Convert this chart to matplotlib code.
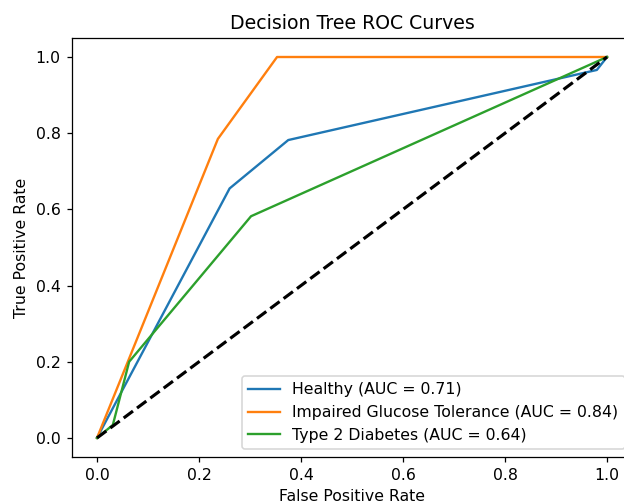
import matplotlib
matplotlib.use("Agg")
import matplotlib.pyplot as plt

# ROC points
healthy_fpr = [0.0, 0.26, 0.375, 0.98, 1.0]
healthy_tpr = [0.0, 0.655, 0.782, 0.966, 1.0]
igt_fpr = [0.0, 0.237, 0.353, 1.0]
igt_tpr = [0.0, 0.785, 1.0, 1.0]
t2d_fpr = [0.0, 0.031, 0.063, 0.302, 1.0]
t2d_tpr = [0.0, 0.034, 0.200, 0.582, 1.0]

labels = ['Healthy (AUC = 0.71)',
          'Impaired Glucose Tolerance (AUC = 0.84)',
          'Type 2 Diabetes (AUC = 0.64)']

# picture is a bit larger than a default 100 dpi render, so use 113 dpi
fig = plt.figure(figsize=(5.5225, 4.4515), dpi=113)
ax = fig.add_axes([0.1146, 0.0915, 0.899, 0.833])

ax.plot(healthy_fpr, healthy_tpr, label=labels[0])
ax.plot(igt_fpr, igt_tpr, label=labels[1])
ax.plot(t2d_fpr, t2d_tpr, label=labels[2])
ax.plot([0, 1], [0, 1], 'k--', lw=2)

ax.set_xlabel('False Positive Rate')
ax.set_ylabel('True Positive Rate')
ax.set_title('Decision Tree ROC Curves')
ax.legend(loc='lower right')

fig.savefig('out.png', dpi=113)
